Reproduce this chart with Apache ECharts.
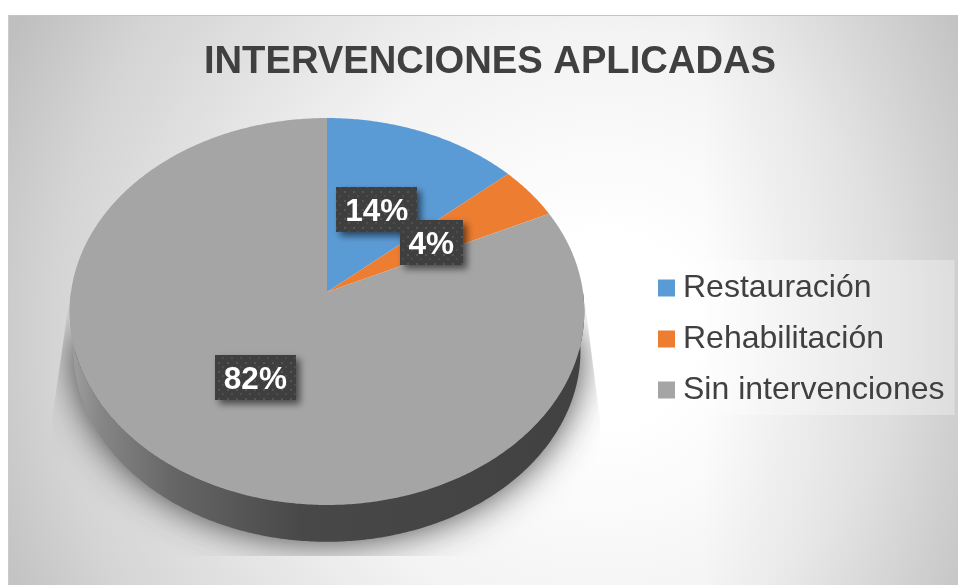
<!DOCTYPE html>
<html><head><meta charset="utf-8">
<script src="https://cdn.jsdelivr.net/npm/echarts@6/dist/echarts.min.js"></script>
<style>
html,body{margin:0;padding:0;background:#fff;overflow:hidden}
#bg{position:absolute;left:8px;top:15px;width:950px;height:570px;box-sizing:border-box;border-top:1px solid #c4c4c4;border-left:1px solid #cacaca;
background:linear-gradient(to right,rgba(0,0,0,0) 692px,rgba(0,0,0,.12) 950px),radial-gradient(circle at 592px 315px,#fff 0,#fff 95px,#f3f3f3 300px,#e3e3e3 430px,#d4d4d4 550px,#bfbfbf 660px)}
#chart{position:absolute;left:0;top:0;width:958px;height:585px}
</style></head><body>
<div id="bg"></div><div id="chart"></div>
<script>
var categories = ['Restauración', 'Rehabilitación', 'Sin intervenciones'];
var values = [13.6, 4.4, 82];
var sliceColors = ['#5B9BD5', '#ED7D31', '#A5A5A5'];

// Perspective view of the pie disc
var view = {cx: 327, cy: 292, a: 256, b: 191.5, k: -0.1008, drop: 40, bottomScale: 0.985, labelRadius: 0.5};
var total = values.reduce(function (s, v) { return s + v; }, 0);

function project(rho, theta, dy, scale) {
  var X = rho * Math.sin(theta), Y = -rho * Math.cos(theta), d = 1 + view.k * Y;
  return [view.cx + scale * view.a * X / d, view.cy + dy + scale * view.b * Y / d];
}
function arc(t0, t1, dy, scale) {
  var n = Math.max(2, Math.ceil(Math.abs(t1 - t0) / 0.01)), pts = [];
  for (var i = 0; i <= n; i++) pts.push(project(1, t0 + (t1 - t0) * i / n, dy, scale));
  return pts;
}
function startOf(i) {
  var s = 0;
  for (var j = 0; j < i; j++) s += values[j];
  return s / total * Math.PI * 2;
}

var dots = document.createElement('canvas');
dots.width = 9; dots.height = 9;
(function () {
  var g = dots.getContext('2d');
  g.fillStyle = '#3f3f3f'; g.fillRect(0, 0, 9, 9);
  g.fillStyle = '#555555';
  g.fillRect(2, 2, 2, 2);
  g.fillStyle = '#4d4d4d';
  g.fillRect(6, 6, 2, 2);
})();

var series = [];
// soft ground shadow, hidden behind the wall except for its blur
series.push({
  type: 'custom', coordinateSystem: 'none', silent: true, z: 1, data: [0],
  renderItem: function () {
    var pts = arc(Math.PI * 0.5, Math.PI * 1.5, 39, 0.98);
    return {type: 'polygon', shape: {points: pts},
      clipPath: {type: 'polygon', shape: {points: [[70, 295], [52, 420], [52, 556], [600, 556], [600, 420], [584, 295]]}},
      style: {fill: 'rgba(70,70,70,1)', shadowBlur: 38, shadowColor: 'rgba(30,30,30,0.9)'}};
  }
});
// side wall
series.push({
  type: 'custom', coordinateSystem: 'none', silent: true, z: 2, data: [0],
  renderItem: function () {
    var top = arc(Math.PI * 0.5, Math.PI * 1.5, 0, 1);
    var low = arc(Math.PI * 1.5, Math.PI * 0.5, view.drop, view.bottomScale);
    return {type: 'polygon', shape: {points: top.concat(low)},
      style: {fill: new echarts.graphic.LinearGradient(0, 0, 1, 0, [
        {offset: 0, color: '#a0a0a0'}, {offset: 0.06, color: '#868686'}, {offset: 0.2, color: '#666666'},
        {offset: 0.45, color: '#484848'}, {offset: 1, color: '#414141'}])}};
  }
});
// slices
categories.forEach(function (name, i) {
  series.push({
    type: 'custom', name: name, coordinateSystem: 'none', silent: true, z: 3,
    itemStyle: {color: sliceColors[i]}, data: [values[i]],
    renderItem: function (params, api) {
      var t0 = startOf(i), t1 = t0 + api.value(0) / total * Math.PI * 2;
      return {type: 'polygon', shape: {points: [[view.cx, view.cy]].concat(arc(t0, t1, 0, 1))},
        style: {fill: sliceColors[i]}};
    }
  });
});
// percentage labels
var order = [0, 2, 1];
order.forEach(function (i, n) {
  series.push({
    type: 'custom', coordinateSystem: 'none', silent: true, z: 4 + n, data: [values[i]],
    renderItem: function (params, api) {
      var v = api.value(0), mid = startOf(i) + v / total * Math.PI;
      var p = project(view.labelRadius, mid, 0, 1);
      var text = Math.round(v / total * 100) + '%';
      var w = text.length > 2 ? 81 : 63, h = 45;
      return {type: 'group', children: [
        {type: 'rect', shape: {x: Math.round(p[0] - w / 2) - (i === 0 ? 1 : 0), y: Math.round(p[1] - h / 2) + 1, width: w, height: h},
          style: {fill: {image: dots, repeat: 'repeat'}, shadowBlur: 7, shadowOffsetX: 4, shadowOffsetY: 4, shadowColor: 'rgba(0,0,0,0.55)'}},
        {type: 'text', style: {x: p[0] - (i === 0 ? 1 : 0), y: p[1] + 4, text: text, align: 'center', verticalAlign: 'middle',
          fill: '#ffffff', font: 'bold 31.5px "Liberation Sans", Arial, sans-serif'}}
      ]};
    }
  });
});

var chart = echarts.init(document.getElementById('chart'), null, {renderer: 'canvas'});
chart.setOption({
  animation: false,
  title: {text: 'INTERVENCIONES APLICADAS', left: 485, top: 38, textAlign: 'center',
    textStyle: {color: '#404040', fontSize: 38.2, fontWeight: 'bold', fontFamily: '"Liberation Sans", Arial, sans-serif'}},
  legend: {data: categories, orient: 'vertical', left: 644, top: 260, width: 310, icon: 'rect', selectedMode: false,
    itemWidth: 17, itemHeight: 17, itemGap: 19, padding: [12, 10, 9, 14], align: 'left',
    backgroundColor: 'rgba(255,255,255,0.3)',
    textStyle: {color: '#404040', fontSize: 32, padding: [0, 0, 0, 3], lineHeight: 32, fontFamily: '"Liberation Sans", Arial, sans-serif'}},
  series: series
});
</script>
</body></html>
